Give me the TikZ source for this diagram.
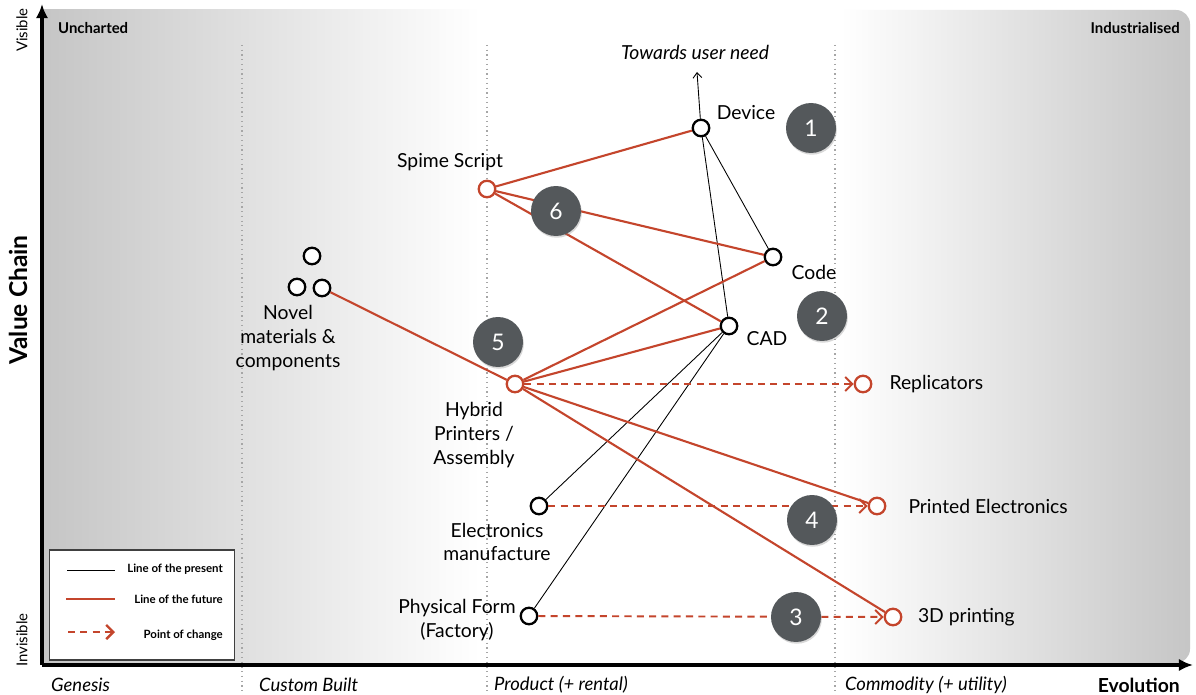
\documentclass[tikz,border=0pt]{standalone}
\usepackage{fontspec}
\setmainfont{Lato}
\usetikzlibrary{positioning,arrows.meta,shadows}
\definecolor{futurered}{HTML}{C4452C}
\definecolor{badgegray}{HTML}{54585B}

\begin{document}
\begin{tikzpicture}[x=0.02cm, y=-0.02cm,
    comp/.style={draw, circle, line width=1.3pt, fill=white, minimum size=0.33cm, inner sep=0pt},
    future/.style={comp, draw=futurered},
    lbl/.style={font=\fontsize{11}{13.5}\selectfont, align=center, inner sep=1pt},
    badge/.style={circle, fill=badgegray, minimum size=1cm, inner sep=0pt, text=white,
        font=\fontsize{13}{13}\selectfont, drop shadow={opacity=0.3, shadow xshift=0.5pt, shadow yshift=-1pt}},
    present/.style={black, line width=0.5pt},
    fline/.style={futurered, line width=1.2pt},
    change/.style={futurered, line width=1.1pt, dash pattern=on 4pt off 3pt, -{Straight Barb[length=4pt, width=8pt]}},
    stage/.style={font=\fontsize{10.5}{12}\selectfont\itshape, anchor=west},
    legtext/.style={font=\fontsize{6.5}{7}\selectfont\bfseries, anchor=east}]
\useasboundingbox (0,0) rectangle (1196,695);
\fill[white] (0,0) rectangle (1196,695);
% background
\shade[left color=gray!45, right color=white] (44,10) rectangle (480,663);
\shade[left color=white, right color=gray!45] (840,10) [rounded corners=8pt] -- (1190,10) -- (1190,663) [sharp corners] -- (840,663) -- cycle;
% stage lines
\foreach \x in {242,487,835}
  \draw[gray!70, dotted, line width=0.7pt] (\x,45) -- (\x,695);
% axes
\coordinate (origin) at (42,665);
\coordinate (top) at (42,4);
\coordinate (right) at (1193,665);
\draw[line width=2pt, -{Latex[length=8pt, width=7pt]}] (origin) -- (top);
\draw[line width=2pt, -{Latex[length=8pt, width=7pt]}] (origin) -- (right);
\node[rotate=90, font=\fontsize{8.5}{10}\selectfont] (visible) at (22,30) {Visible};
\node[rotate=90, font=\fontsize{8.5}{10}\selectfont] (invisible) at (22,640) {Invisible};
\node[rotate=90, font=\fontsize{14}{16}\selectfont\bfseries] (valuechain) at (18,300) {Value Chain};
\node[font=\fontsize{8.5}{10}\selectfont\bfseries, anchor=west] (uncharted) at (52,28) {Uncharted};
\node[font=\fontsize{8.5}{10}\selectfont\bfseries, anchor=east] (industrialised) at (1186,28) {Industrialised};
\node[stage] (genesis) at (45,685) {Genesis};
\node[stage] (custom) at (253,685) {Custom Built};
\node[stage] (product) at (488,685) {Product (+ rental)};
\node[stage] (commodity) at (839,685) {Commodity (+ utility)};
\node[font=\fontsize{11}{12}\selectfont\bfseries, anchor=east] (evolution) at (1186,685) {Evolution};

% components
\node[comp] (device) at (701,128) {};
\node[future] (spime) at (487,189) {};
\node[comp] (code) at (773,257) {};
\node[comp] (cad) at (729,326) {};
\node[comp] (novela) at (312,256) {};
\node[comp] (novelb) at (297,287) {};
\node[comp] (novelc) at (322,288) {};
\node[future] (hybrid) at (515,384) {};
\node[future] (replicators) at (863,384) {};
\node[comp] (electronics) at (539,506) {};
\node[future] (printed) at (877,506) {};
\node[comp] (physical) at (529,616) {};
\node[future] (printing) at (893,617) {};

% labels
\node[lbl] (devicelbl) at (746,113) {Device};
\node[lbl] (spimelbl) at (450,162) {Spime Script};
\node[lbl] (codelbl) at (814,272) {Code};
\node[lbl] (cadlbl) at (767,339) {CAD};
\node[lbl] (novellbl) at (288,338) {Novel\\materials \&\\components};
\node[lbl] (hybridlbl) at (474,435) {Hybrid\\Printers /\\Assembly};
\node[lbl, right=0.3cm of replicators] (replicatorslbl) {Replicators};
\node[lbl] (electronicslbl) at (497,542) {Electronics\\manufacture};
\node[lbl, right=0.4cm of printed] (printedlbl) {Printed Electronics};
\node[lbl] (physicallbl) at (457,620) {Physical Form\\(Factory)};
\node[lbl, right=0.27cm of printing] (printinglbl) {3D printing};
\node[lbl, font=\fontsize{11}{12}\selectfont\itshape] (need) at (695,52) {Towards user need};
\coordinate (needtip) at (697,72);

% line of the present
\draw[present, -{Straight Barb[length=3pt, width=5pt]}] (device) -- (needtip);
\draw[present] (device) -- (code);
\draw[present] (device) -- (cad);
\draw[present] (cad) -- (electronics);
\draw[present] (cad) -- (physical);

% line of the future
\draw[fline] (spime) -- (device);
\draw[fline] (spime) -- (code);
\draw[fline] (spime) -- (cad);
\draw[fline] (novelc) -- (hybrid);
\draw[fline] (hybrid) -- (code);
\draw[fline] (hybrid) -- (cad);
\draw[fline] (hybrid) -- (printed);
\draw[fline] (hybrid) -- (printing);

% points of change
\draw[change] (hybrid) -- (replicators);
\draw[change] (electronics) -- (printed);
\draw[change] (physical) -- (printing);

% badges
\node[badge] (one) at (811,128) {1};
\node[badge] (two) at (822,316) {2};
\node[badge] (three) at (796,617) {3};
\node[badge] (four) at (812,520) {4};
\node[badge] (five) at (498,342) {5};
\node[badge] (six) at (556,211) {6};

% legend
\node[draw=black!75, line width=1pt, fill=white, minimum width=3.7cm, minimum height=2.2cm] (legend) at (142,605) {};
\draw[present] (67,570) -- (115,570);
\draw[fline, line width=1.6pt] (66,599) -- (115,599);
\draw[change, line width=1.4pt] (68,632) -- (115,632);
\node[legtext] (presentlbl) at (229,569) {Line of the present};
\node[legtext] (futurelbl) at (229,599) {Line of the future};
\node[legtext] (changelbl) at (229,635) {Point of change};
\end{tikzpicture}
\end{document}
